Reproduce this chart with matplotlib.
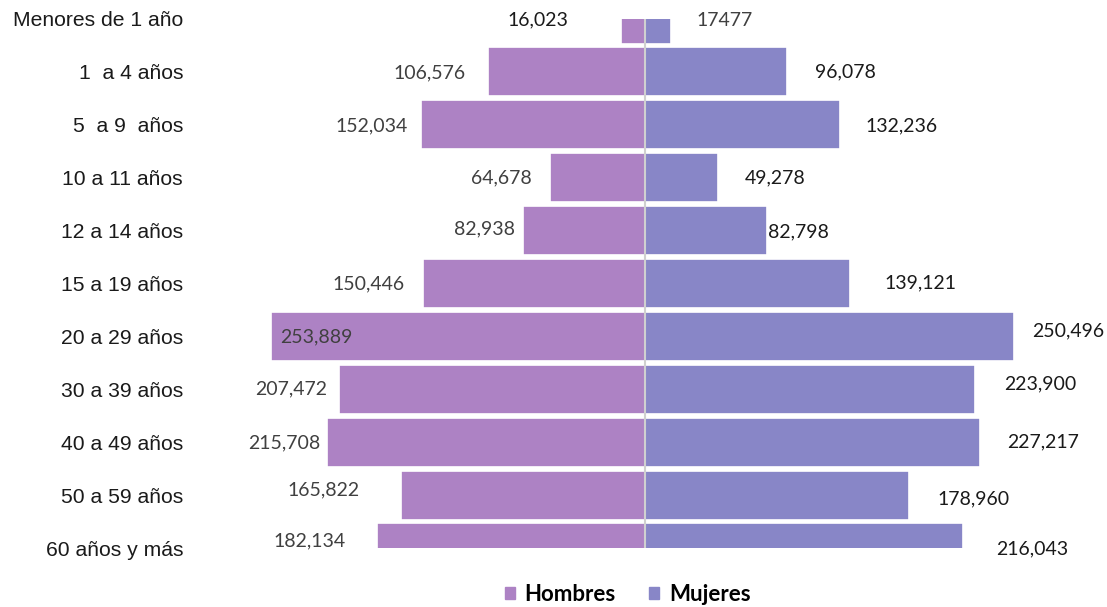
import matplotlib.pyplot as plt
from matplotlib.patches import Patch

# data
grupos = ["Menores de 1 año", "1  a 4 años", "5  a 9  años", "10 a 11 años",
          "12 a 14 años", "15 a 19 años", "20 a 29 años", "30 a 39 años",
          "40 a 49 años", "50 a 59 años", "60 años y más"]
hombres = [16023, 106576, 152034, 64678, 82938, 150446, 253889, 207472, 215708, 165822, 182134]
mujeres = [17477, 96078, 132236, 49278, 82798, 139121, 250496, 223900, 227217, 178960, 216043]
etiq_h = ["16,023", "106,576", "152,034", "64,678", "82,938", "150,446",
          "253,889", "207,472", "215,708", "165,822", "182,134"]
etiq_m = ["17477", "96,078", "132,236", "49,278", "82,798", "139,121",
          "250,496", "223,900", "227,217", "178,960", "216,043"]

# label offsets (pixels) from the bar end, as moved by hand in the original
off_h = [(-83, -1), (-58, -1), (-49, -1), (-48, 0), (-38, 2), (-55, 0),
         (45, 0), (-48, 0), (-43, -1), (-77, 5), (-67, 7)]
off_m = [(54, -1), (59, 0), (62, -1), (58, 0), (31, -1), (71, 1),
         (54, 6), (65, 5), (63, 0), (65, -4), (69, -1)]
col_h = ["#1a1a1a"] + ["#404040"] * 10
col_m = ["#404040"] + ["#1a1a1a"] * 10

C_H = "#AD82C4"
C_M = "#8886C7"

fig = plt.figure(figsize=(11.07, 6.07), dpi=100)
ax = fig.add_axes([195 / 1107, 59 / 607, 900 / 1107, 529 / 607])

y = list(range(len(grupos)))
neg = [-v for v in hombres]
ax.barh(y, neg, height=0.93, color=C_H, edgecolor="white", linewidth=1.2)
ax.barh(y, mujeres, height=0.93, color=C_M, edgecolor="white", linewidth=1.2)
ax.axvline(0, color="#D0D0D0", lw=1.5, zorder=3)

ax.set_xlim(-305500, 305500)
ax.set_ylim(10, 0)
ax.set_yticks(y)
ax.set_yticklabels(grupos, family="Liberation Sans", fontsize=15.2, color="#1a1a1a")
ax.tick_params(axis="y", length=0, pad=8.6)
ax.set_xticks([])
for s in ax.spines.values():
    s.set_visible(False)

for i in y:
    ax.annotate(etiq_h[i], xy=(neg[i], i), xytext=off_h[i], textcoords="offset pixels",
                ha="center", va="center", fontsize=14, family="Lato", color=col_h[i])
    ax.annotate(etiq_m[i], xy=(mujeres[i], i), xytext=off_m[i], textcoords="offset pixels",
                ha="center", va="center", fontsize=14, family="Lato", color=col_m[i])

handles = [Patch(color=C_H, label="Hombres"), Patch(color=C_M, label="Mujeres")]
fig.legend(handles=handles, loc="center", bbox_to_anchor=(0.567, 0.02), ncol=2,
           frameon=False, handlelength=0.45, handleheight=0.45, handletextpad=0.45,
           columnspacing=1.5, prop={"family": "Lato", "weight": "bold", "size": 16})

fig.savefig("out.png", dpi=100)
